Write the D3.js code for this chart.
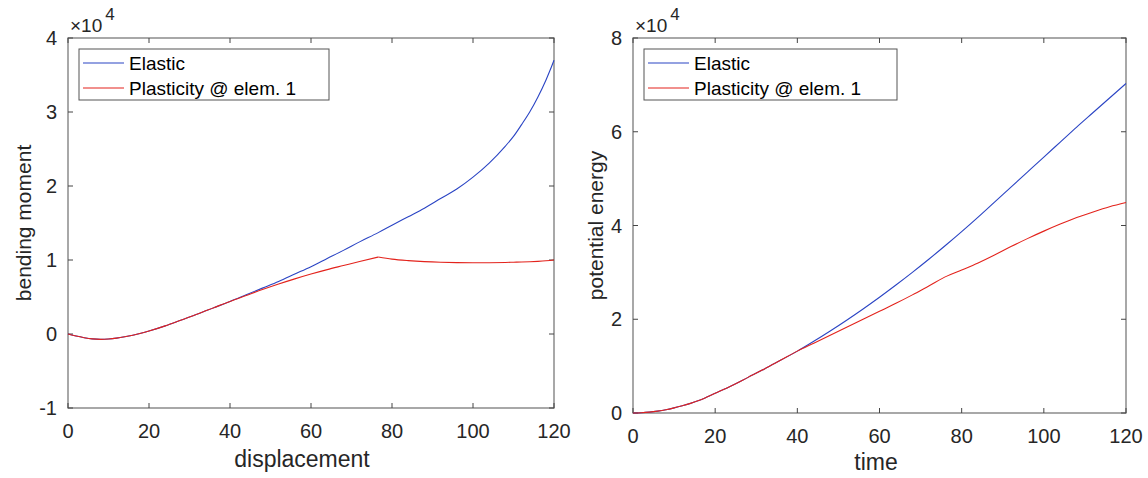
<!DOCTYPE html>
<html>
<head>
<meta charset="utf-8">
<script src="https://cdn.jsdelivr.net/npm/d3@7"></script>
<style>
    body { margin: 0; background: #fff; }
    text { font-family: "Liberation Sans", Arial, Helvetica, sans-serif; fill: #262626; }
    .legend-text { fill: #000; }
</style>
</head>
<body>
<div id="chart"></div>
<script>

// Left panel: bending moment vs displacement (values in units of 1e4)
var dispX = [0, 2, 4, 6, 8, 10, 12, 14, 16, 18, 20, 24, 28, 32, 36, 40, 44, 48, 52, 56, 60, 64, 68, 72, 76.6,
    80, 84, 88, 92, 96, 100, 104, 108, 110, 112, 114, 116, 118, 119, 120];
var momentElastic = [0, -0.028, -0.05, -0.066, -0.072, -0.068, -0.056, -0.038, -0.016, 0.01, 0.04, 0.11, 0.19, 0.27, 0.355, 0.44,
    0.53, 0.62, 0.71, 0.81, 0.91, 1.02, 1.13, 1.245, 1.37, 1.47, 1.585, 1.70, 1.83, 1.96, 2.12, 2.31, 2.54, 2.67, 2.83, 3.0, 3.2, 3.43, 3.56, 3.7];
var momentPlastic = [0, -0.028, -0.05, -0.066, -0.072, -0.068, -0.056, -0.038, -0.016, 0.01, 0.04, 0.11, 0.19, 0.27, 0.355, 0.44,
    0.52, 0.6, 0.675, 0.745, 0.81, 0.87, 0.925, 0.98, 1.04, 1.012, 0.992, 0.978, 0.969, 0.964, 0.962, 0.963, 0.967, 0.97, 0.973, 0.977, 0.982, 0.989, 0.994, 1.0];
// index where the plastic hinge forms (sharp corner)
var momentKink = 24;

// Right panel: potential energy vs time (values in units of 1e4)
var timeX = [0, 2, 4, 6, 8, 10, 12, 14, 16, 18, 20, 24, 28, 32, 36, 40, 44, 48, 52, 56, 60, 64, 68, 72, 76.4,
    80, 84, 88, 92, 96, 100, 104, 108, 112, 116, 120];
var energyElastic = [0, 0.005, 0.018, 0.04, 0.07, 0.11, 0.155, 0.205, 0.265, 0.34, 0.42, 0.58, 0.76, 0.94, 1.13, 1.32,
    1.53, 1.75, 1.98, 2.22, 2.47, 2.73, 3.0, 3.28, 3.6, 3.87, 4.18, 4.5, 4.82, 5.14, 5.46, 5.78, 6.1, 6.41, 6.72, 7.03];
var energyPlastic = [0, 0.005, 0.018, 0.04, 0.07, 0.11, 0.155, 0.205, 0.265, 0.34, 0.42, 0.58, 0.76, 0.94, 1.13, 1.32,
    1.49, 1.66, 1.83, 2.0, 2.17, 2.34, 2.52, 2.71, 2.92, 3.05, 3.2, 3.37, 3.55, 3.72, 3.88, 4.03, 4.17, 4.29, 4.4, 4.49];

var seriesNames = ["Elastic", "Plasticity @ elem. 1"];
var seriesColors = ["#2a44c4", "#e3231c"];

var xTicks = [0, 20, 40, 60, 80, 100, 120];
var momentTicks = [-1, 0, 1, 2, 3, 4];
var energyTicks = [0, 2, 4, 6, 8];


var svg = d3.select('#chart')
    .append('svg')
    .attr('width', 1148)
    .attr('height', 478);

/**
 * Draw one MATLAB-style panel
 */
function drawPanel(opts) {
    var g = svg.append('g');

    var x = d3.scaleLinear().domain([0, 120]).range([opts.left, opts.right]);
    var y = d3.scaleLinear().domain(opts.yDomain).range([opts.bottom, opts.top]);

    // box
    g.append('rect')
        .attr('x', opts.left)
        .attr('y', opts.top)
        .attr('width', opts.right - opts.left)
        .attr('height', opts.bottom - opts.top)
        .attr('fill', 'none')
        .attr('stroke', '#7a7a7a')
        .attr('stroke-width', 1.3);

    // inward ticks (bottom, top, left, right)
    var tl = 5;
    xTicks.forEach(function(t) {
        g.append('line').attr('x1', x(t)).attr('x2', x(t)).attr('y1', opts.bottom).attr('y2', opts.bottom - tl)
            .attr('stroke', '#444');
        g.append('line').attr('x1', x(t)).attr('x2', x(t)).attr('y1', opts.top).attr('y2', opts.top + tl)
            .attr('stroke', '#444');
        g.append('text')
            .attr('x', x(t))
            .attr('y', opts.bottom + 30)
            .attr('text-anchor', 'middle')
            .style('font-size', '20px')
            .text(t);
    });
    opts.yTicks.forEach(function(t) {
        g.append('line').attr('x1', opts.left).attr('x2', opts.left + tl).attr('y1', y(t)).attr('y2', y(t))
            .attr('stroke', '#444');
        g.append('line').attr('x1', opts.right).attr('x2', opts.right - tl).attr('y1', y(t)).attr('y2', y(t))
            .attr('stroke', '#444');
        g.append('text')
            .attr('x', opts.left - 11)
            .attr('y', y(t) + 7)
            .attr('text-anchor', 'end')
            .style('font-size', '20px')
            .text(t);
    });

    // exponent label
    var ex = g.append('text')
        .attr('x', opts.left + 2)
        .attr('y', opts.top - 6)
        .style('font-size', '19px');
    ex.append('tspan').text('\u00d710');
    ex.append('tspan').attr('dy', -12).attr('dx', 3).style('font-size', '17px').text('4');

    // axis labels
    g.append('text')
        .attr('x', opts.xLabelX)
        .attr('y', opts.xLabelY)
        .attr('text-anchor', 'middle')
        .style('font-size', '23px')
        .text(opts.xLabel);

    g.append('text')
        .attr('transform', 'translate(' + opts.yLabelX + ',' + ((opts.top + opts.bottom) / 2) + ') rotate(-90)')
        .attr('text-anchor', 'middle')
        .style('font-size', '21px')
        .text(opts.yLabel);

    // lines (smooth, but split at a hinge so the corner stays sharp)
    var line = d3.line()
        .x(function(d) { return x(d[0]); })
        .y(function(d) { return y(d[1]); })
        .curve(d3.curveMonotoneX);

    opts.series.forEach(function(s, i) {
        var pts = opts.xs.map(function(v, j) { return [v, s[j]]; });
        var parts = [pts];
        if (opts.kinks && opts.kinks[i] != null) {
            var k = opts.kinks[i];
            parts = [pts.slice(0, k + 1), pts.slice(k)];
        }
        parts.forEach(function(p) {
            g.append('path')
                .datum(p)
                .attr('fill', 'none')
                .attr('stroke', seriesColors[i])
                .attr('stroke-width', 1.1)
                .attr('d', line);
        });
    });

    // legend
    var lg = g.append('g').attr('transform', 'translate(' + opts.legendX + ',' + (opts.top + 11) + ')');
    lg.append('rect')
        .attr('width', opts.legendW)
        .attr('height', 51)
        .attr('fill', '#fff')
        .attr('stroke', '#555')
        .attr('stroke-width', 1);
    seriesNames.forEach(function(name, i) {
        var cy = 14 + i * 25;
        lg.append('line')
            .attr('x1', 4).attr('x2', 45)
            .attr('y1', cy).attr('y2', cy)
            .attr('stroke', seriesColors[i])
            .attr('stroke-width', 1.1);
        lg.append('text')
            .attr('class', 'legend-text')
            .attr('x', 50)
            .attr('y', cy + 7)
            .style('font-size', '19px')
            .text(name);
    });
}

drawPanel({
    left: 68, right: 554, top: 38, bottom: 408,
    yDomain: [-1, 4], yTicks: momentTicks,
    xs: dispX, series: [momentElastic, momentPlastic], kinks: [null, momentKink],
    xLabel: 'displacement', xLabelX: 302, xLabelY: 467,
    yLabel: 'bending moment', yLabelX: 31,
    legendX: 79, legendW: 250
});

drawPanel({
    left: 633, right: 1126, top: 38, bottom: 413,
    yDomain: [0, 8], yTicks: energyTicks,
    xs: timeX, series: [energyElastic, energyPlastic],
    xLabel: 'time', xLabelX: 876, xLabelY: 470,
    yLabel: 'potential energy', yLabelX: 603,
    legendX: 644, legendW: 253
});

</script>
</body>
</html>
